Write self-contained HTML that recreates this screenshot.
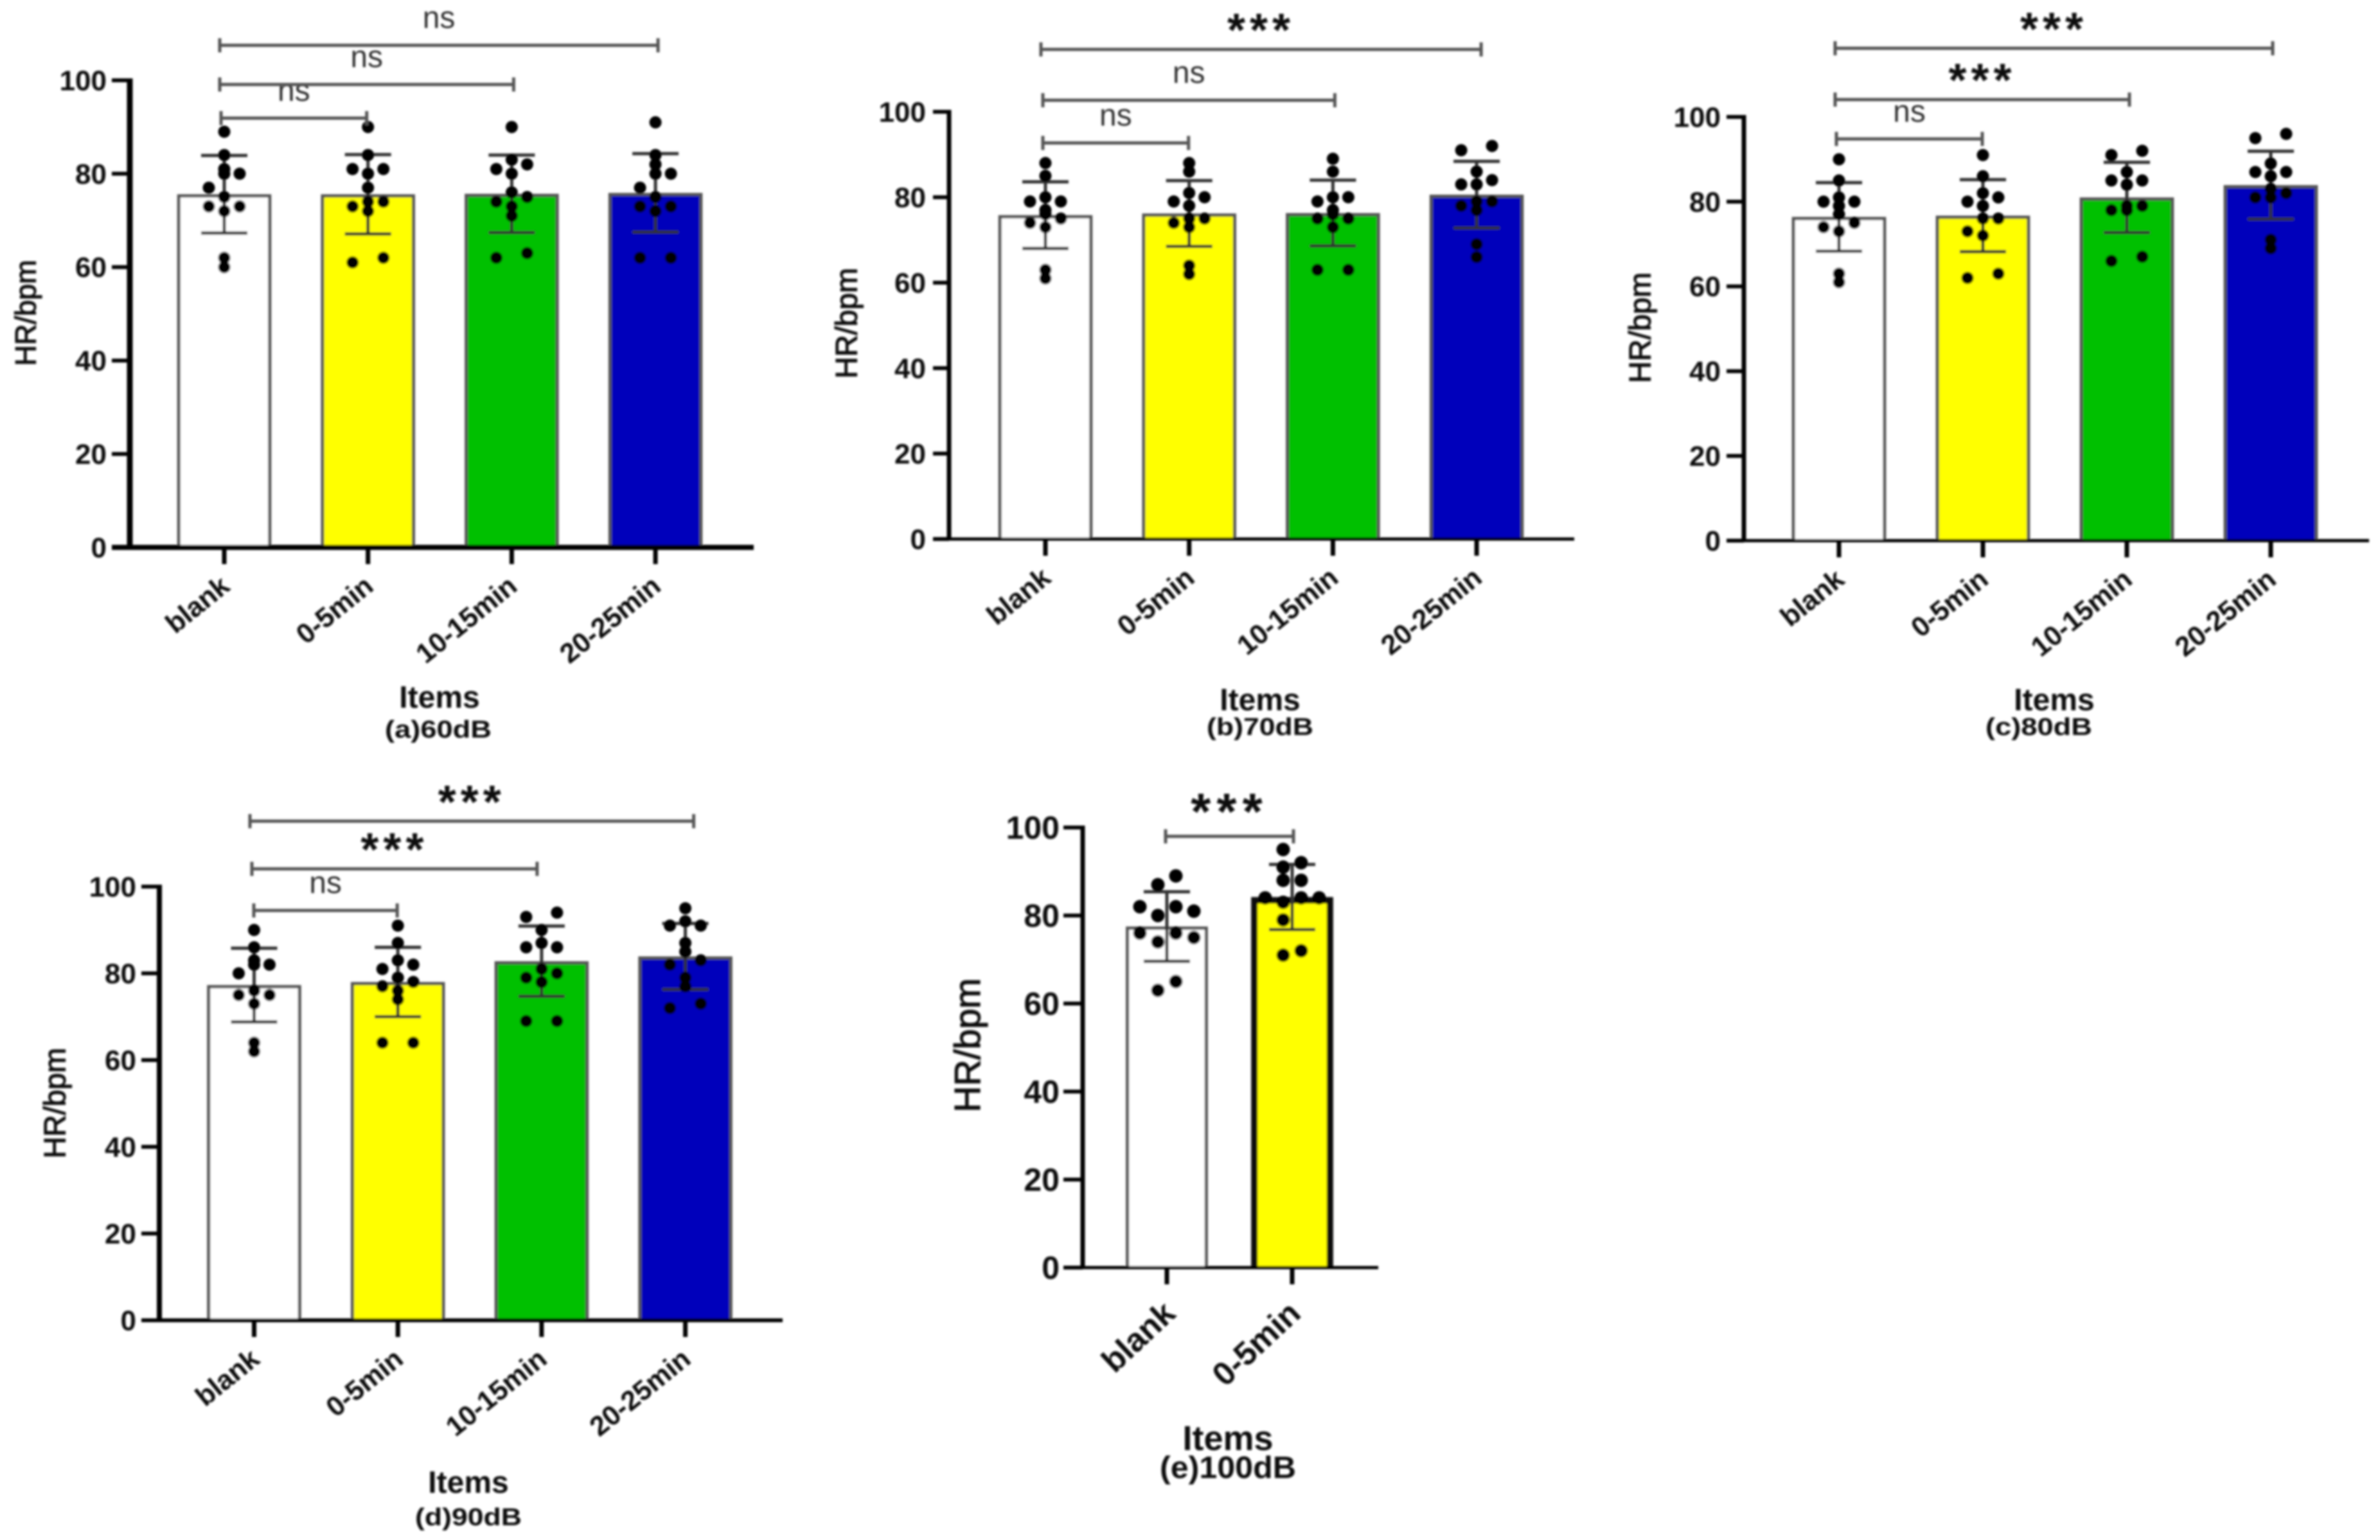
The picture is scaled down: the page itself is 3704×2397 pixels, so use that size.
<!DOCTYPE html>
<html lang="en">
<head>
<meta charset="utf-8">
<title>Heart rate by noise level</title>
<style>
html,body{margin:0;padding:0;background:#fff;width:3704px;height:2397px;overflow:hidden}
svg{display:block;font-family:"Liberation Sans",sans-serif}
</style>
</head>
<body>
<svg id="figure" xmlns="http://www.w3.org/2000/svg" width="3704" height="2397" viewBox="0 0 3704 2397">
<defs>
<filter id="soften" filterUnits="userSpaceOnUse" x="0" y="0" width="3704" height="2397"><feGaussianBlur stdDeviation="1.6"/></filter>
</defs>
<rect x="0" y="0" width="3704" height="2397" fill="#fff"/>
<g id="root" filter="url(#soften)"></g>
</svg>
<script>
// ---------- chart data ----------
const categories = ['blank', '0-5min', '10-15min', '20-25min'];
const categoriesShort = ['blank', '0-5min'];
const yTicks = [0, 20, 40, 60, 80, 100];
const barColors = ['#ffffff', '#ffff00', '#00c000', '#0000bb'];

const means60 = [75.6, 75.6, 75.7, 75.9];
const sds60 = [8.3, 8.5, 8.3, 8.4];
const dots60Blank = [89, 84, 81, 80, 80, 77, 75, 73, 73, 72, 62, 60];
const dots60Early = [90, 84, 81, 81, 80, 77, 74, 74, 73, 72, 62, 61];
const dots60Mid = [90, 83, 82, 81, 80, 76, 75, 74, 73, 71, 63, 62];
const dots60Late = [91, 84, 82, 80, 80, 77, 75, 73, 73, 72, 62, 62];
const sigLabels60 = ['ns', 'ns', 'ns'];
const sigLevels60 = [91.9, 99.1, 107.5];

const means70 = [75.8, 76.2, 76.3, 80.6];
const sds70 = [7.8, 7.7, 7.7, 7.8];
const dots70Blank = [88, 85, 80, 79, 79, 77, 76, 75, 74, 73, 63, 61];
const dots70Early = [88, 86, 81, 80, 79, 78, 75, 75, 74, 73, 64, 62];
const dots70Mid = [89, 86, 80, 80, 79, 77, 76, 75, 75, 73, 63, 63];
const dots70Late = [92, 91, 86, 84, 83, 83, 79, 79, 78, 77, 69, 66];
const sigLabels70 = ['ns', 'ns', '***'];
const sigLevels70 = [92.7, 102.7, 114.6];

const means80 = [76.4, 76.7, 81, 83.9];
const sds80 = [8.1, 8.5, 8.3, 8];
const dots80Blank = [90, 85, 81, 80, 80, 79, 77, 75, 74, 73, 63, 61];
const dots80Early = [91, 86, 82, 81, 80, 79, 76, 76, 73, 72, 63, 62];
const dots80Mid = [92, 91, 87, 85, 85, 84, 79, 79, 78, 78, 67, 66];
const dots80Late = [96, 95, 89, 87, 87, 86, 83, 82, 81, 81, 71, 69];
const sigLabels80 = ['ns', '***', '***'];
const sigLevels80 = [94.8, 104.1, 116.2];

const means90 = [77.3, 78, 82.8, 83.9];
const sds90 = [8.5, 8, 8.1, 7.6];
const dots90Blank = [90, 86, 83, 82, 82, 80, 76, 75, 75, 73, 64, 62];
const dots90Early = [91, 87, 83, 82, 81, 79, 78, 77, 76, 74, 64, 64];
const dots90Mid = [94, 93, 90, 87, 86, 86, 81, 80, 79, 78, 69, 69];
const dots90Late = [95, 92, 91, 91, 87, 85, 83, 82, 79, 77, 73, 72];
const sigLabels90 = ['ns', '***', '***'];
const sigLevels90 = [94.5, 104.1, 115.1];

const means100 = [77.5, 84.2];
const sds100 = [7.9, 7.4];
const dots100Blank = [89, 87, 82, 82, 81, 80, 76, 76, 75, 74, 65, 63];
const dots100Early = [95, 92, 91, 88, 88, 84, 84, 84, 83, 79, 72, 71];
const sigLabels100 = ['***'];
const sigLevels100 = [98];

const xAxisTitle = 'Items';
const yAxisTitle = 'HR/bpm';
const subtitle60 = '(a)60dB';
const subtitle70 = '(b)70dB';
const subtitle80 = '(c)80dB';
const subtitle90 = '(d)90dB';
const subtitle100 = '(e)100dB';

// ---------- panel layout ----------
const panels = [
  {key:'db60', cats:categories, means:means60, sds:sds60, dots:[dots60Blank,dots60Early,dots60Mid,dots60Late], sig:sigLabels60, lev:sigLevels60, sub:subtitle60,
   axisX:202, y0:852, y100:125, tick0:349, step:223.7, xStart:174, xEnd:1173, yw:9, xw:8, yTitleX:40, yTitleY:487, itemX:684, itemY:1086, subX:682, subY:1136, swarm:24, r:9.5, tickFont:44, catFont:43, titleFont:45, itemFont:48, subFont:38, subLen:166, starFont:72, starSpace:7, starRise:39.5, catAngle:-39, catDx:11, catDy:65, startNudge:[-5,-7,-7], endNudge:[-2,3,4]},
  {key:'db70', cats:categories, means:means70, sds:sds70, dots:[dots70Blank,dots70Early,dots70Mid,dots70Late], sig:sigLabels70, lev:sigLevels70, sub:subtitle70,
   axisX:1477, y0:839, y100:174, tick0:1627, step:223.7, xStart:1452, xEnd:2450, yw:7, xw:5, yTitleX:1317, yTitleY:503, itemX:1961, itemY:1090, subX:1961, subY:1132, swarm:24, r:9.5, tickFont:44, catFont:43, titleFont:47, itemFont:48, subFont:38, subLen:166, starFont:72, starSpace:7, starRise:39.5, catAngle:-39, catDx:11, catDy:65, startNudge:[-4,-4,-7], endNudge:[-1,3,7]},
  {key:'db80', cats:categories, means:means80, sds:sds80, dots:[dots80Blank,dots80Early,dots80Mid,dots80Late], sig:sigLabels80, lev:sigLevels80, sub:subtitle80,
   axisX:2714, y0:841.5, y100:182, tick0:2862, step:224, xStart:2687, xEnd:3687, yw:7, xw:5, yTitleX:2552, yTitleY:510, itemX:3197, itemY:1090, subX:3173, subY:1132, swarm:24, r:9.5, tickFont:44, catFont:43, titleFont:47, itemFont:48, subFont:38, subLen:166, starFont:72, starSpace:7, starRise:39.5, catAngle:-39, catDx:11, catDy:65, startNudge:[-4,-6,-6], endNudge:[-1,4,3]},
  {key:'db90', cats:categories, means:means90, sds:sds90, dots:[dots90Blank,dots90Early,dots90Mid,dots90Late], sig:sigLabels90, lev:sigLevels90, sub:subtitle90,
   axisX:248, y0:2055, y100:1380, tick0:395.5, step:223.7, xStart:220, xEnd:1218, yw:8, xw:6, yTitleX:85, yTitleY:1717, itemX:729, itemY:2308, subX:729, subY:2362, swarm:24, r:9.5, tickFont:44, catFont:43, titleFont:47, itemFont:48, subFont:38, subLen:166, starFont:72, starSpace:7, starRise:39.5, catAngle:-39, catDx:11, catDy:65, startNudge:[-0.5,-3.5,-6.5], endNudge:[-1,-7,13]},
  {key:'db100', cats:categoriesShort, means:means100, sds:sds100, dots:[dots100Blank,dots100Early], sig:sigLabels100, lev:sigLevels100, sub:subtitle100,
   axisX:1685, y0:1973, y100:1288, tick0:1816, step:195, xStart:1655, xEnd:2145, yw:7, xw:5, yTitleX:1506, yTitleY:1627, itemX:1911, itemY:2239, subX:1911, subY:2285, swarm:28, r:10.5, tickFont:50, catFont:51, titleFont:57, itemFont:54, subFont:48, subLen:212, starFont:80, starSpace:9, starRise:49, catAngle:-43, catDx:16, catDy:75, startNudge:[-2], endNudge:[2], thickLast:true, fourColumn:true}
];

const SVGNS = 'http://www.w3.org/2000/svg';
const root = document.getElementById('root');

function make(tag, parent, props) {
  const el = document.createElementNS(SVGNS, tag);
  for (const k in props) el.setAttribute(k, props[k]);
  parent.appendChild(el);
  return el;
}

// Places dots side by side when their values fall close together.
function swarmSlots(values, fourColumn) {
  const sorted = values.slice().sort((a, b) => b - a);
  const gap = fourColumn ? 2 : 3;
  const out = [];
  let group = [];
  const flush = () => {
    if (!group.length) return;
    let order = [0, 1, -1, 0, 1, -1];
    if (fourColumn) {
      if (group.length === 1) order = [-0.5];
      else if (group.length === 2) order = [0.5, -0.5];
      else order = [-1.5, 0.5, 1.5, -0.5];
    } else if (group.length === 2) {
      order = (group[0] - group[1] < 2) ? [1, -1] : [0, 0];
    }
    group.forEach((v, i) => out.push({v: v, slot: order[i % order.length]}));
    group = [];
  };
  sorted.forEach(v => {
    if (group.length && group[0] - v > gap) flush();
    group.push(v);
  });
  flush();
  return out;
}

panels.forEach(p => {
  const yScale = v => p.y0 - (p.y0 - p.y100) * v / 100;
  const xScale = i => p.tick0 + i * p.step;
  const barW = p.step * 0.655;

  const g = make('g', root, {});
  
  

  // bars
  p.cats.forEach((c, i) => {
    const thick = p.thickLast && i === 1;
    const sw = thick ? 10 : 5;
    const top = yScale(p.means[i]) + sw / 2;
    const left = xScale(i) - barW / 2 + sw / 2;
    const right = xScale(i) + barW / 2 - sw / 2;
    const bar = make('path', g, {d: 'M' + left + ' ' + p.y0 + 'V' + top + 'H' + right + 'V' + p.y0, fill: barColors[i], stroke: thick ? '#111' : '#555', 'stroke-width': sw});
    
    
  });

  // error bars
  p.cats.forEach((c, i) => {
    const cx = xScale(i);
    const hi = yScale(p.means[i] + p.sds[i]);
    const lo = yScale(p.means[i] - p.sds[i]);
    const stem = make('line', g, {x1: cx, x2: cx, y1: hi, y2: lo, stroke: '#333', 'stroke-width': 5});
    
    
    [hi, lo].forEach(y => {
      const cap = make('line', g, {x1: cx - 36, x2: cx + 36, y1: y, y2: y, stroke: '#333', 'stroke-width': 5});
      
      
    });
  });

  // dots
  p.cats.forEach((c, i) => {
    swarmSlots(p.dots[i], p.fourColumn).forEach(d => {
      const dot = make('circle', g, {cx: xScale(i) + d.slot * p.swarm, cy: yScale(d.v), r: p.r, fill: '#000'});
      
      
    });
  });

  // axes
  const yAxis = make('line', g, {x1: p.axisX, x2: p.axisX, y1: p.y100 - 3, y2: p.y0 + p.xw / 2, stroke: '#000', 'stroke-width': p.yw});
  
  
  const xAxis = make('line', g, {x1: p.xStart, x2: p.xEnd, y1: p.y0, y2: p.y0, stroke: '#000', 'stroke-width': p.xw});
  
  

  yTicks.forEach(t => {
    const y = yScale(t);
    const mark = make('line', g, {x1: p.xStart, x2: p.axisX, y1: y, y2: y, stroke: '#000', 'stroke-width': 6});
    
    
    const lab = make('text', g, {x: p.axisX - 36, y: y + p.tickFont * 0.35, 'text-anchor': 'end', 'font-size': p.tickFont, 'font-weight': 'bold', fill: '#111'});
    lab.textContent = String(t);
    
    
  });

  p.cats.forEach((c, i) => {
    const x = xScale(i);
    const mark = make('line', g, {x1: x, x2: x, y1: p.y0, y2: p.y0 + 26, stroke: '#000', 'stroke-width': 7});
    
    
    const lx = x + p.catDx;
    const ly = p.y0 + p.catDy;
    const lab = make('text', g, {x: lx, y: ly, 'text-anchor': 'end', 'font-size': p.catFont, 'font-weight': 'bold', fill: '#111', transform: 'rotate(' + p.catAngle + ' ' + lx + ' ' + ly + ')'});
    lab.textContent = c;
    
    
  });

  // titles
  const yt = make('text', g, {x: p.yTitleX, y: p.yTitleY, 'text-anchor': 'middle', 'dominant-baseline': 'central', 'font-size': p.titleFont, fill: '#111', stroke: '#111', 'stroke-width': 1.2, transform: 'rotate(-90 ' + p.yTitleX + ' ' + p.yTitleY + ')'});
  yt.textContent = yAxisTitle;
  
  

  const xt = make('text', g, {x: p.itemX, y: p.itemY, 'text-anchor': 'middle', 'dominant-baseline': 'central', 'font-size': p.itemFont, 'font-weight': 'bold', fill: '#111'});
  xt.textContent = xAxisTitle;
  
  

  const st = make('text', g, {x: p.subX, y: p.subY, 'text-anchor': 'middle', 'dominant-baseline': 'central', 'font-size': p.subFont, 'font-weight': 'bold', fill: '#111', textLength: p.subLen, lengthAdjust: 'spacingAndGlyphs'});
  st.textContent = p.sub;
  
  

  // significance brackets
  p.sig.forEach((label, j) => {
    const y = yScale(p.lev[j]);
    const x1 = xScale(0) + p.startNudge[j];
    const x2 = xScale(j + 1) + p.endNudge[j];
    const line = make('path', g, {d: 'M' + x1 + ' ' + (y - 11) + 'V' + (y + 11) + 'M' + x1 + ' ' + y + 'H' + x2 + 'M' + x2 + ' ' + (y - 11) + 'V' + (y + 11), fill: 'none', stroke: '#555', 'stroke-width': 5});
    
    
    const mid = (x1 + x2) / 2;
    if (label === 'ns') {
      const t = make('text', g, {x: mid, y: y - 27, 'text-anchor': 'middle', 'font-size': 48, fill: '#333'});
      t.textContent = label;
      
      
    } else {
      const t = make('text', g, {x: mid, y: y - p.starRise + p.starFont * 0.475, 'text-anchor': 'middle', 'font-size': p.starFont, 'font-weight': 'bold', 'letter-spacing': p.starSpace, fill: '#111'});
      t.textContent = label;
      
      
    }
  });
});
</script>
</body>
</html>
